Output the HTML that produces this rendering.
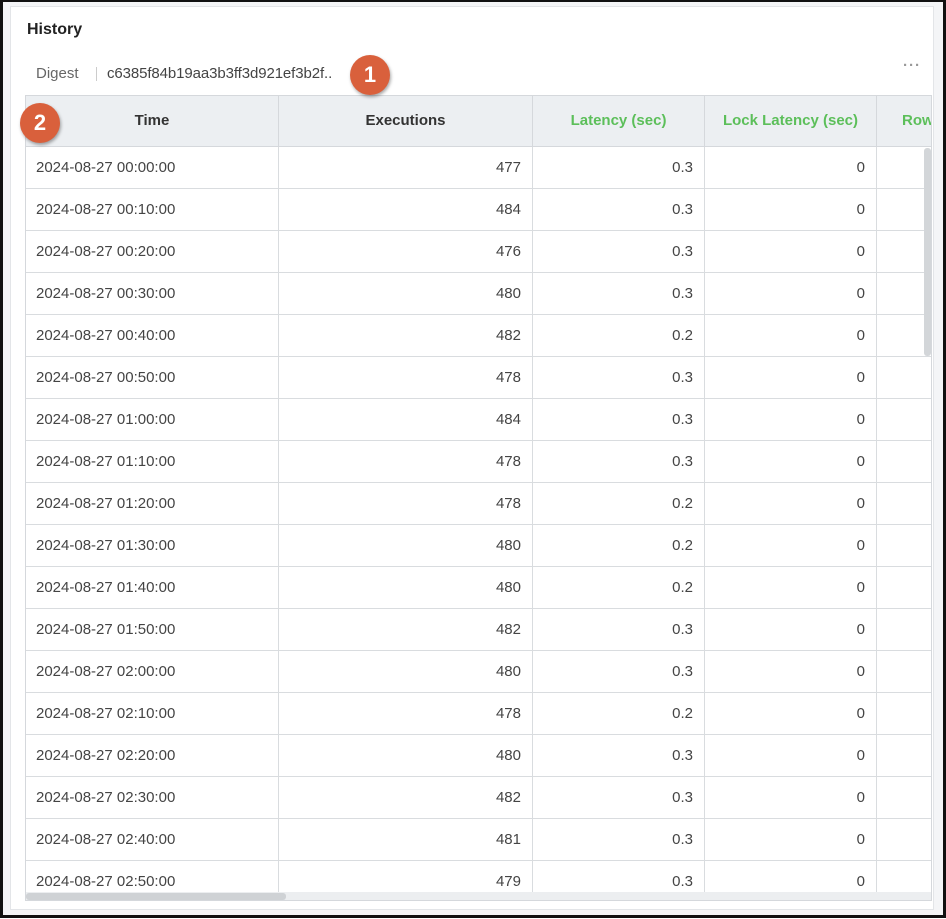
<!DOCTYPE html>
<html><head><meta charset="utf-8"><style>
*{box-sizing:border-box;margin:0;padding:0}
body{width:946px;height:919px;background:#fff;font-family:"Liberation Sans",sans-serif;position:relative;overflow:hidden}
.frame{position:absolute;left:0;top:0;width:946px;height:918px;border:3px solid #111;border-top-width:2px;background:#f4f5f7}
.card{position:absolute;left:10px;top:6px;width:924px;height:904px;background:#fff;border:1px solid #e3e5e8}
.t{position:absolute;font-size:15px;color:#333}
.tbl{position:absolute;left:25px;top:95px;width:907px;height:806px;border:1px solid #d5d8dc;overflow:hidden}
.hd{position:absolute;top:0;height:51px;background:#eceff2;border-right:1px solid #d5d8dc;border-bottom:1px solid #d5d8dc;font-weight:bold;font-size:15px;line-height:50px;text-align:center;color:#333}
.g{color:#5cbf5a}
.row{position:absolute;left:0;width:905px;height:42px;border-bottom:1px solid #d9dcdf}
.c{position:absolute;top:0;height:42px;border-right:1px solid #d9dcdf;font-size:15px;color:#444;line-height:42px}
.circ{position:absolute;width:40px;height:40px;border-radius:50%;background:#d9603c;color:#fff;font-weight:bold;font-size:22px;text-align:center;line-height:40px;box-shadow:1px 2px 3px rgba(0,0,0,.35)}
</style></head><body>
<div class="frame"></div>
<div class="card"></div>
<div class="t" style="left:27px;top:21px;font-weight:bold;font-size:16px;color:#222">History</div>
<div class="t" style="left:36px;top:65px;color:#666">Digest</div>
<div style="position:absolute;left:96px;top:67px;width:1px;height:14px;background:#ccc"></div>
<div class="t" style="left:107px;top:65px;font-size:15px;color:#444;letter-spacing:-0.1px">c6385f84b19aa3b3ff3d921ef3b2f..</div>
<div class="t" style="left:903px;top:57px;color:#999;font-weight:bold;letter-spacing:1px">···</div>
<div class="tbl">
<div class="hd" style="left:0;width:253px">Time</div>
<div class="hd" style="left:253px;width:254px">Executions</div>
<div class="hd g" style="left:507px;width:172px">Latency (sec)</div>
<div class="hd g" style="left:679px;width:172px">Lock Latency (sec)</div>
<div class="hd g" style="left:851px;width:60px;text-align:left;padding-left:25px">Rows</div>
<div id="rows"></div>
<div style="position:absolute;left:898px;top:52px;width:7px;height:208px;background:#d3d6d9;border-radius:3px"></div>
<div style="position:absolute;left:0;top:796px;width:905px;height:9px;background:#eceef0"></div>
<div style="position:absolute;left:0;top:797px;width:260px;height:7px;background:#cfd2d5;border-radius:3px"></div>
</div>
<div class="circ" style="left:350px;top:55px">1</div>
<div class="circ" style="left:20px;top:103px">2</div>
<script>
var d=[[477,.3],[484,.3],[476,.3],[480,.3],[482,.2],[478,.3],[484,.3],[478,.3],[478,.2],[480,.2],[480,.2],[482,.3],[480,.3],[478,.2],[480,.3],[482,.3],[481,.3],[479,.3]];
var times=["00:00","00:10","00:20","00:30","00:40","00:50","01:00","01:10","01:20","01:30","01:40","01:50","02:00","02:10","02:20","02:30","02:40","02:50"];
var h="";
for(var i=0;i<d.length;i++){
h+='<div class="row" style="top:'+(51+i*42)+'px">'+
'<div class="c" style="left:0;width:253px;padding-left:10px">2024-08-27 '+times[i]+':00</div>'+
'<div class="c" style="left:253px;width:254px;text-align:right;padding-right:11px">'+d[i][0]+'</div>'+
'<div class="c" style="left:507px;width:172px;text-align:right;padding-right:11px">'+d[i][1].toFixed(1)+'</div>'+
'<div class="c" style="left:679px;width:172px;text-align:right;padding-right:11px">0</div></div>';
}
document.getElementById("rows").innerHTML=h;
</script>
</body></html>
